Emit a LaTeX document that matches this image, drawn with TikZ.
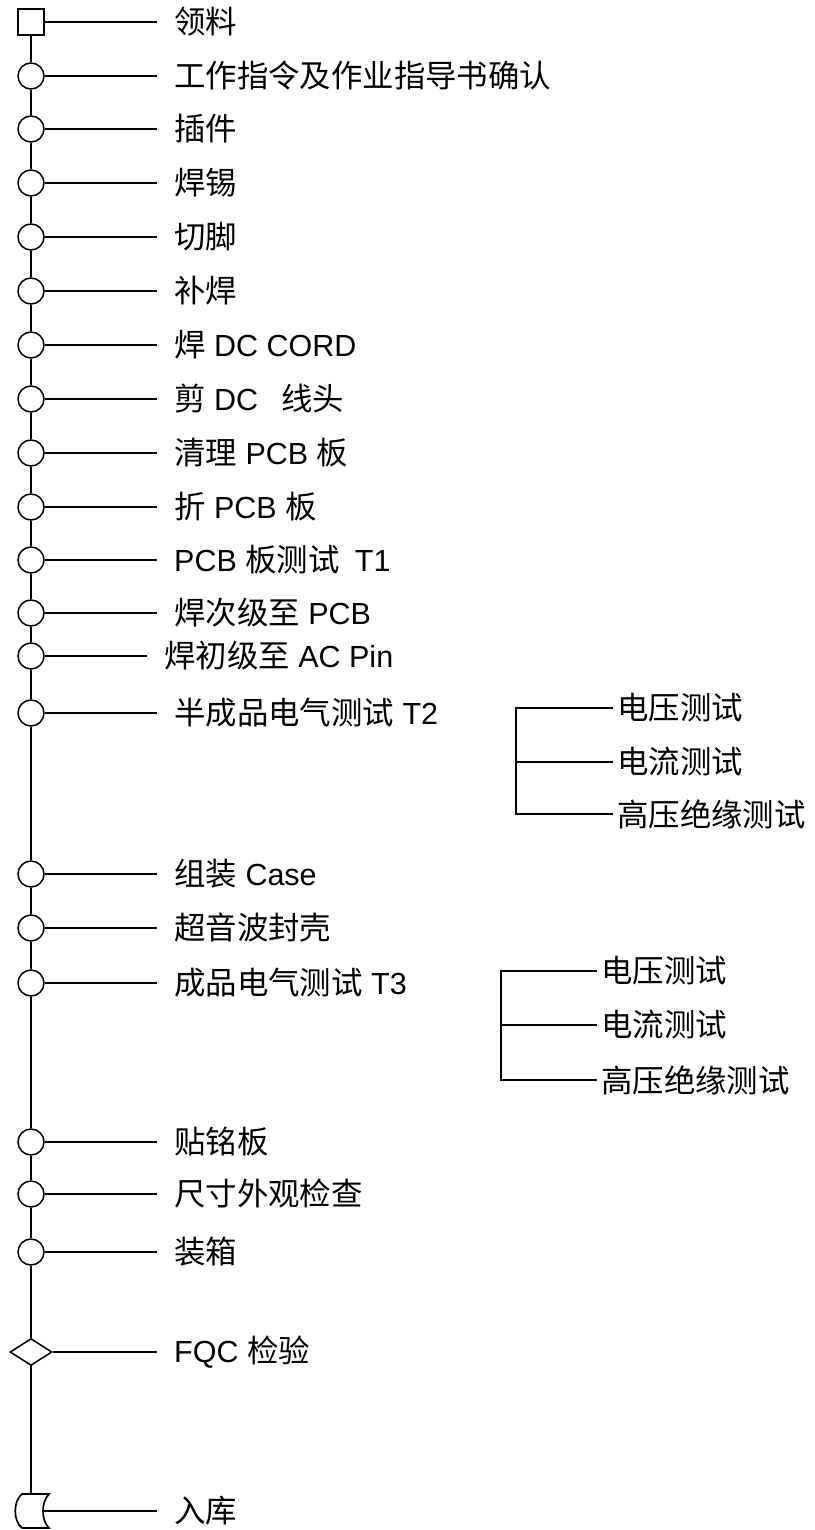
\documentclass[tikz,border=0pt]{standalone}
\usepackage{fontspec}
\setmainfont{Liberation Sans}
\newfontfamily\cjk[Scale=1.03]{Noto Sans CJK SC}
\newcommand{\zh}[1]{{\cjk #1}}
\usetikzlibrary{shapes.geometric,positioning}

\tikzset{
  op/.style={circle,draw,line width=1.5pt,minimum size=26pt,inner sep=0pt},
  getbox/.style={rectangle,draw,line width=1.5pt,minimum size=26pt,inner sep=0pt},
  chk/.style={diamond,draw,line width=1.5pt,minimum width=42pt,minimum height=27pt,aspect=1.55,inner sep=0pt},
  lbl/.style={anchor=west,inner xsep=17pt,inner ysep=0pt,font=\fontsize{30.5}{36}\selectfont},
  sub/.style={anchor=west,inner xsep=4pt,inner ysep=0pt,font=\fontsize{30.5}{36}\selectfont},
  wire/.style={line width=1.7pt}
}

\begin{document}
\begin{tikzpicture}[x=1pt,y=-1pt]
		\useasboundingbox (0,0) rectangle (814,1530);

		% Process symbols on the spine
		\node[getbox] (s1) at (31,22) {};
		\node[op] (c2) at (31,76) {};
		\node[op] (c3) at (31,129) {};
		\node[op] (c4) at (31,183) {};
		\node[op] (c5) at (31,237) {};
		\node[op] (c6) at (31,291) {};
		\node[op] (c7) at (31,345) {};
		\node[op] (c8) at (31,399) {};
		\node[op] (c9) at (31,453) {};
		\node[op] (c10) at (31,507) {};
		\node[op] (c11) at (31,560) {};
		\node[op] (c12) at (31,613) {};
		\node[op] (c13) at (31,656) {};
		\node[op] (c14) at (31,713) {};
		\node[op] (c15) at (31,874) {};
		\node[op] (c16) at (31,928) {};
		\node[op] (c17) at (31,983) {};
		\node[op] (c18) at (31,1142) {};
		\node[op] (c19) at (31,1194) {};
		\node[op] (c20) at (31,1252) {};
		\node[chk] (d21) at (31,1352) {};
		\coordinate (s22top) at (31,1494);
		\coordinate (s22mid) at (43,1511);

		% Storage symbol
		\draw[wire] (22,1494) -- (49,1494) .. controls (41,1502) and (41,1520) .. (49,1528)
			-- (22,1528) .. controls (13,1521) and (13,1501) .. (22,1494) -- cycle;

		% Spine
		\draw[wire] (s1) -- (c2) -- (c3) -- (c4) -- (c5) -- (c6) -- (c7) -- (c8) -- (c9) -- (c10)
			-- (c11) -- (c12) -- (c13) -- (c14) -- (c15) -- (c16) -- (c17) -- (c18) -- (c19)
			-- (c20) -- (d21) -- (s22top);

		% Step labels
		\node[lbl] (t1) at (157,22) {\zh{领料}};
		\node[lbl] (t2) at (157,76) {\zh{工作指令及作业指导书确认}};
		\node[lbl] (t3) at (157,129) {\zh{插件}};
		\node[lbl] (t4) at (157,183) {\zh{焊锡}};
		\node[lbl] (t5) at (157,237) {\zh{切脚}};
		\node[lbl] (t6) at (157,291) {\zh{补焊}};
		\node[lbl] (t7) at (157,345) {\zh{焊} DC CORD};
		\node[lbl] (t8) at (157,399) {\zh{剪} DC\hspace{0.75em}\zh{线头}};
		\node[lbl] (t9) at (157,453) {\zh{清理} PCB \zh{板}};
		\node[lbl] (t10) at (157,507) {\zh{折} PCB \zh{板}};
		\node[lbl] (t11) at (157,560) {PCB \zh{板测试}\hspace{0.5em}T1};
		\node[lbl] (t12) at (157,613) {\zh{焊次级至} PCB};
		\node[lbl] (t13) at (147,656) {\zh{焊初级至} AC Pin};
		\node[lbl] (t14) at (157,713) {\zh{半成品电气测试} T2};
		\node[lbl] (t15) at (157,874) {\zh{组装} Case};
		\node[lbl] (t16) at (157,928) {\zh{超音波封壳}};
		\node[lbl] (t17) at (157,983) {\zh{成品电气测试} T3};
		\node[lbl] (t18) at (157,1142) {\zh{贴铭板}};
		\node[lbl] (t19) at (157,1194) {\zh{尺寸外观检查}};
		\node[lbl] (t20) at (157,1252) {\zh{装箱}};
		\node[lbl] (t21) at (157,1352) {FQC \zh{检验}};
		\node[lbl] (t22) at (157,1511) {\zh{入库}};

		% Step lines
		\draw[wire] (s1) -- (t1);
		\draw[wire] (c2) -- (t2);
		\draw[wire] (c3) -- (t3);
		\draw[wire] (c4) -- (t4);
		\draw[wire] (c5) -- (t5);
		\draw[wire] (c6) -- (t6);
		\draw[wire] (c7) -- (t7);
		\draw[wire] (c8) -- (t8);
		\draw[wire] (c9) -- (t9);
		\draw[wire] (c10) -- (t10);
		\draw[wire] (c11) -- (t11);
		\draw[wire] (c12) -- (t12);
		\draw[wire] (c13) -- (t13);
		\draw[wire] (c14) -- (t14);
		\draw[wire] (c15) -- (t15);
		\draw[wire] (c16) -- (t16);
		\draw[wire] (c17) -- (t17);
		\draw[wire] (c18) -- (t18);
		\draw[wire] (c19) -- (t19);
		\draw[wire] (c20) -- (t20);
		\draw[wire] (d21) -- (t21);
		\draw[wire] (s22mid) -- (t22);

		% Tests of T2
		\node[sub] (va) at (613,708) {\zh{电压测试}};
		\node[sub] (ia) at (613,762) {\zh{电流测试}};
		\node[sub] (ha) at (613,814) {\zh{高压绝缘测试}};
		\coordinate (ka) at (516,708);
		\draw[wire] (va.west) -- (ka) |- (ha.west);
		\draw[wire] (ia.west) -- (ka |- ia.west);

		% Tests of T3
		\node[sub] (vb) at (597,971) {\zh{电压测试}};
		\node[sub] (ib) at (597,1025) {\zh{电流测试}};
		\node[sub] (hb) at (597,1080) {\zh{高压绝缘测试}};
		\coordinate (kb) at (501,971);
		\draw[wire] (vb.west) -- (kb) |- (hb.west);
		\draw[wire] (ib.west) -- (kb |- ib.west);
	\end{tikzpicture}
\end{document}
